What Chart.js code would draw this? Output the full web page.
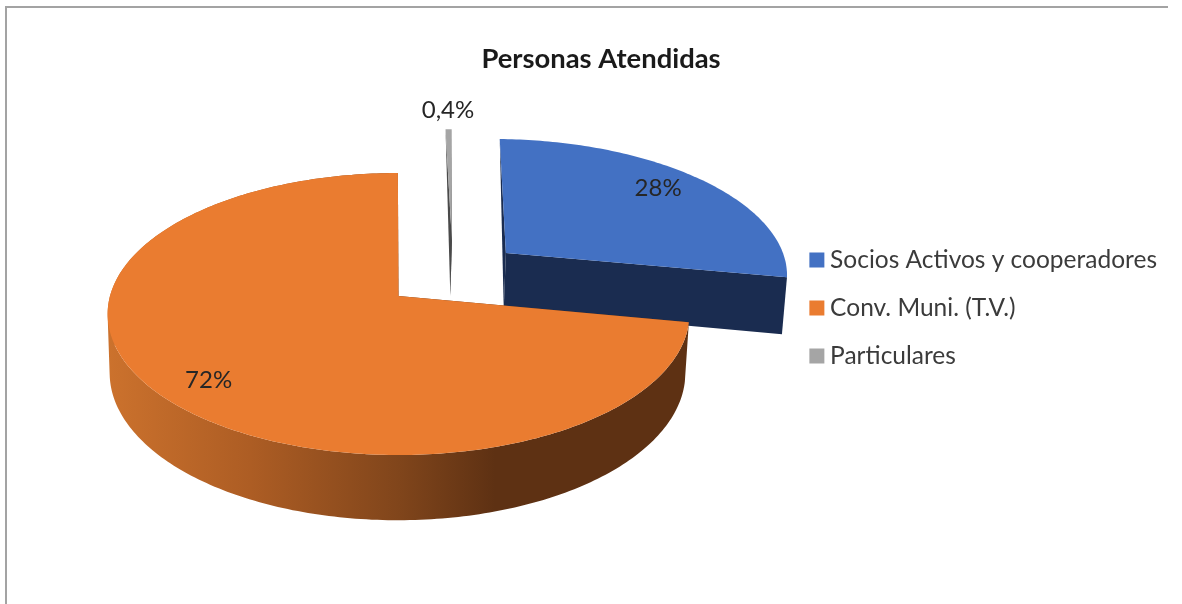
<!DOCTYPE html>
<html>
<head>
<meta charset="utf-8">
<title>Personas Atendidas</title>
<script src="https://cdn.jsdelivr.net/npm/chart.js@4/dist/chart.umd.min.js"></script>
<style>
    html, body { margin: 0; padding: 0; background: #ffffff; overflow: hidden; }
    #wrap { position: relative; width: 1182px; height: 604px; }
    #frame { position: absolute; left: 5px; top: 6px; width: 1163px; height: 598px; box-sizing: border-box;
             border-top: 2px solid #a3a3a3; border-left: 2px solid #a3a3a3; }
    canvas { position: absolute; left: 0; top: 0; }
</style>
</head>
<body>
<div id="wrap">
    <div id="frame"></div>
    <canvas id="personasChart" width="1182" height="604"></canvas>
</div>
<script>
// Datos del grafico
const categories = ['Socios Activos y cooperadores', 'Conv. Muni. (T.V.)', 'Particulares'];
const seriesValues = [27.6, 72, 0.4];
const valueLabels = ['28%', '72%', '0,4%'];

// Colores
const topColors = ['#4371c3', '#ea7c30', '#a5a5a5'];
const wallColors = ['#1a2c50', '#5e3113', '#4a4a4a'];

// Separacion de cada porcion, en unidades del radio del disco (u, v)
const sliceOffsets = [[0.3875, -0.3228], [0, 0], [0.195, -0.42]];
const labelRadius = [0.78, 0.8, 1.2];
const labelNudge = [[0, -5], [0, 8], [0, 0]];

// Proyeccion en perspectiva del disco superior y del inferior
const view = { cx: 398.5, cy: 296, k: 0.1277, topX: 288.5, topY: 138.7, baseCx: 397.5, baseX: 285.5, baseY: 145, depth: 58 };

function project(u, v, isBase) {
    const w = 1 - view.k * v;
    if (isBase) {
        return [view.baseCx + view.baseX * u / w, view.cy + view.depth + view.baseY * v / w];
    }
    return [view.cx + view.topX * u / w, view.cy + view.topY * v / w];
}

function rimPoint(i, angle, isBase) {
    const off = sliceOffsets[i];
    return project(off[0] + Math.cos(angle), off[1] + Math.sin(angle), isBase);
}

function addPolygon(ctx, points) {
    points.forEach((p, n) => n ? ctx.lineTo(p[0], p[1]) : ctx.moveTo(p[0], p[1]));
    ctx.closePath();
}

function fillPath(ctx, points, fill) {
    ctx.beginPath();
    addPolygon(ctx, points);
    ctx.fillStyle = fill;
    ctx.fill();
}

function arcPoints(i, start, end, isBase) {
    const pts = [];
    const steps = Math.max(4, Math.ceil((end - start) * 60));
    for (let s = 0; s <= steps; s++) {
        pts.push(rimPoint(i, start + (end - start) * s / steps, isBase));
    }
    return pts;
}

function signedArea(points) {
    let area = 0;
    points.forEach((p, n) => {
        const q = points[(n + 1) % points.length];
        area += p[0] * q[1] - q[0] * p[1];
    });
    return area;
}

// Pared exterior del disco naranja: un solo trazado de tramos con la misma orientacion,
// asi cubre los bordes laterales sin dejar costuras
function drawOrangeWall(ctx, rimTop, rimBase) {
    const grad = ctx.createLinearGradient(106, 0, 690, 0);
    grad.addColorStop(0, '#cc722d');
    grad.addColorStop(0.247, '#ad5d24');
    grad.addColorStop(0.503, '#80451b');
    grad.addColorStop(0.666, '#5e3113');
    grad.addColorStop(1, '#5e3113');
    ctx.beginPath();
    for (let s = 0; s < rimTop.length - 1; s++) {
        const quad = [rimTop[s], rimTop[s + 1], rimBase[s + 1], rimBase[s]];
        addPolygon(ctx, signedArea(quad) < 0 ? quad.reverse() : quad);
    }
    ctx.fillStyle = grad;
    ctx.fill();
}

function drawSlice(ctx, arc, i) {
    const off = sliceOffsets[i];
    const apexTop = project(off[0], off[1], false);
    const apexBase = project(off[0], off[1], true);
    const rimTop = arcPoints(i, arc.startAngle, arc.endAngle, false);
    const rimBase = arcPoints(i, arc.startAngle, arc.endAngle, true);
    const last = rimTop.length - 1;

    // paredes radiales: la de atras queda casi oculta, solo una astilla
    fillPath(ctx, [apexTop, rimTop[0], apexBase], wallColors[i]);
    if (i === 2) {
        fillPath(ctx, [apexTop, rimTop[last], apexBase], wallColors[i]);
    } else {
        fillPath(ctx, [apexTop, rimTop[last], rimBase[last], apexBase], wallColors[i]);
    }
    if (i === 1) {
        drawOrangeWall(ctx, rimTop, rimBase);
    }
    // cara superior
    fillPath(ctx, [apexTop].concat(rimTop), topColors[i]);
}

const pie3dPlugin = {
    id: 'pie3d',
    beforeDatasetDraw(chart, args) {
        const ctx = chart.ctx;
        const arcs = args.meta.data;
        ctx.save();
        // de atras hacia adelante
        [2, 0, 1].forEach(i => drawSlice(ctx, arcs[i], i));
        ctx.font = '24px Lato';
        ctx.fillStyle = '#262626';
        ctx.textAlign = 'center';
        ctx.textBaseline = 'middle';
        arcs.forEach((arc, i) => {
            const mid = (arc.startAngle + arc.endAngle) / 2;
            const off = sliceOffsets[i];
            const r = labelRadius[i];
            const p = project(off[0] + r * Math.cos(mid), off[1] + r * Math.sin(mid), false);
            ctx.fillText(valueLabels[i], p[0] + labelNudge[i][0], p[1] + labelNudge[i][1]);
        });
        ctx.restore();
        return false;
    }
};

new Chart(document.getElementById('personasChart'), {
    type: 'pie',
    plugins: [pie3dPlugin],
    data: {
        labels: categories,
        datasets: [{
            data: seriesValues,
            backgroundColor: topColors,
            borderWidth: 0
        }]
    },
    options: {
        responsive: false,
        animation: false,
        rotation: 1.3,
        layout: { padding: { left: 35, right: 15, top: 12, bottom: 0 } },
        plugins: {
            tooltip: { enabled: false },
            title: {
                display: true,
                text: 'Personas Atendidas',
                color: '#1a1a1a',
                font: { family: 'Lato', size: 27.4, weight: 'bold' },
                padding: { top: 31, bottom: 10 }
            },
            legend: {
                position: 'right',
                labels: {
                    color: '#3b3b3b',
                    font: { family: 'Lato', size: 24.5 },
                    boxWidth: 2,
                    boxHeight: 2,
                    padding: 23.5,
                    // caja de 15px: trazo grueso para dejar el texto cerca
                    generateLabels(chart) {
                        return categories.map((name, i) => ({
                            text: name,
                            fillStyle: topColors[i],
                            strokeStyle: topColors[i],
                            lineWidth: 13,
                            fontColor: '#3b3b3b',
                            index: i
                        }));
                    }
                }
            }
        }
    }
});
</script>
</body>
</html>
